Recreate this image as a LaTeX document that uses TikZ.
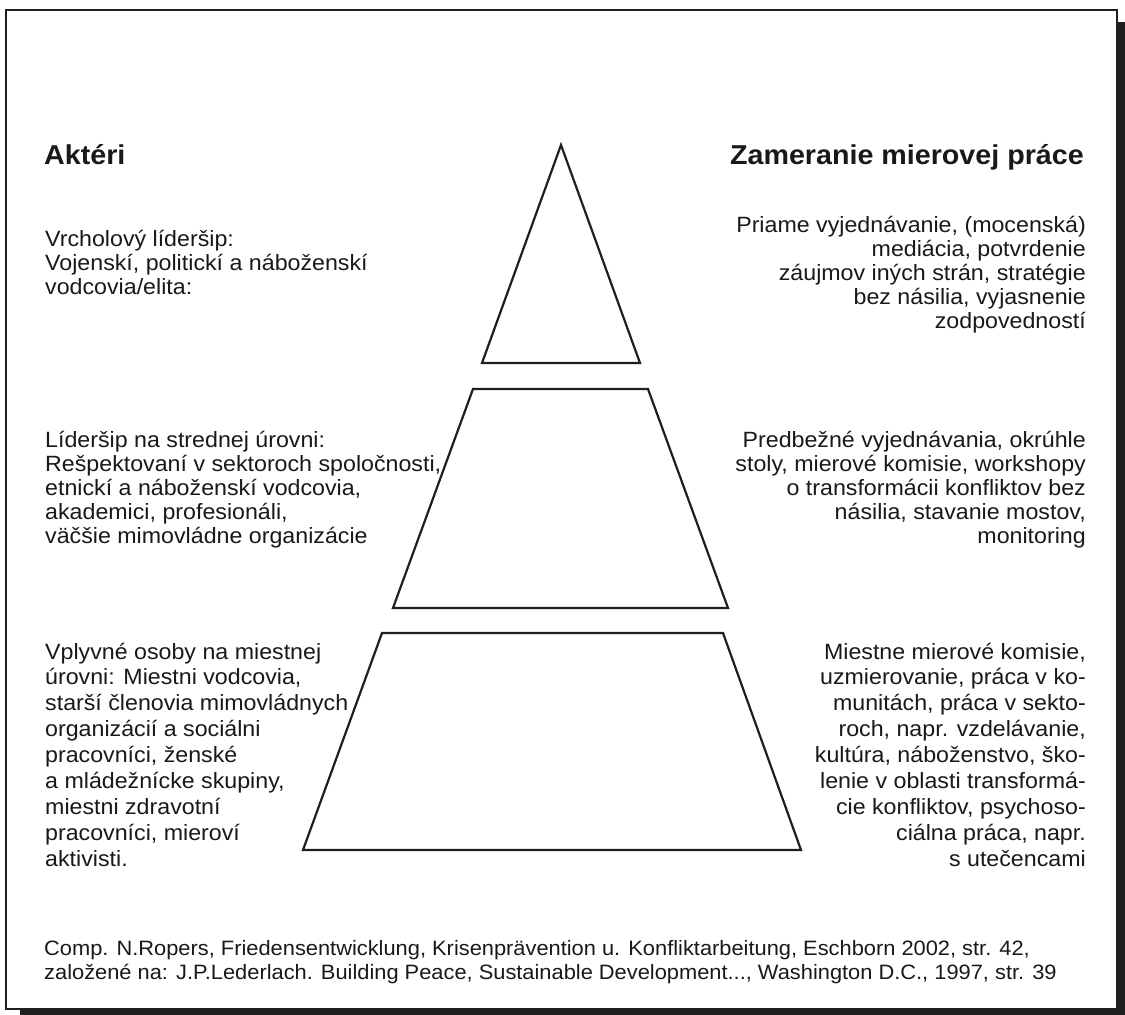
\documentclass[tikz,border=0pt]{standalone}
\usepackage{fontspec}
\setmainfont{Liberation Sans}[FakeStretch=1.05]
% stacked lines, spaced by \baselineskip; first line gives the baseline
\newcommand{\blkL}[1]{\vtop{\lineskiplimit=-20pt\halign{##\hfil\cr#1\crcr}}}
\newcommand{\blkR}[1]{\vtop{\lineskiplimit=-20pt\halign{\hfil##\cr#1\crcr}}}
\begin{document}
\begin{tikzpicture}[x=1pt,y=-1pt,
  level/.style={draw=black!88,line width=2.2pt,line join=miter},
  body/.style={inner sep=0pt,font=\fontsize{22.1}{24.2}\selectfont,text=black!90},
  bodywide/.style={inner sep=0pt,font=\fontsize{22.1}{25.9}\selectfont,text=black!90},
  head/.style={inner sep=0pt,font=\fontsize{27.3}{30}\selectfont\bfseries,text=black!90},
  note/.style={inner sep=0pt,font=\fontsize{20.8}{24}\selectfont,text=black!90}]
\useasboundingbox (0,0) rectangle (1125,1015);
% frame with drop shadow
\fill[black!88] (20,22) rectangle (1125,1015);
\draw[fill=white,draw=black!88,line width=2pt] (6,10) rectangle (1117,1009);
% pyramid levels
\draw[level] (561,145) -- (640,363) -- (482,363) -- cycle;
\draw[level] (473,389) -- (648,389) -- (728,608) -- (393,608) -- cycle;
\draw[level] (382,633) -- (723,633) -- (801,850) -- (303,850) -- cycle;
% headings
\node[head,anchor=base west] (hl) at (44,164) {Aktéri};
\node[head,anchor=base east] (hr) at (1084,164) {Zameranie mierovej práce};
% actors
\node[body,anchor=base west] (a1) at (45,246) {\blkL{Vrcholový líderšip:\cr Vojenskí, politickí a náboženskí\cr vodcovia/elita:}};
\node[body,anchor=base west] (a2) at (45,447) {\blkL{Líderšip na strednej úrovni:\cr Rešpektovaní v sektoroch spoločnosti,\cr etnickí a náboženskí vodcovia,\cr akademici, profesionáli,\cr väčšie mimovládne organizácie}};
\node[bodywide,anchor=base west] (a3) at (45,659) {\blkL{Vplyvné osoby na miestnej\cr úrovni: Miestni vodcovia,\cr starší členovia mimovládnych\cr organizácií a sociálni\cr pracovníci, ženské\cr a mládežnícke skupiny,\cr miestni zdravotní\cr pracovníci, mieroví\cr aktivisti.}};
% focus of peace work
\node[body,anchor=base east] (f1) at (1086,232) {\blkR{Priame vyjednávanie, (mocenská)\cr mediácia, potvrdenie\cr záujmov iných strán, stratégie\cr bez násilia, vyjasnenie\cr zodpovedností}};
\node[body,anchor=base east] (f2) at (1086,447) {\blkR{Predbežné vyjednávania, okrúhle\cr stoly, mierové komisie, workshopy\cr o transformácii konfliktov bez\cr násilia, stavanie mostov,\cr monitoring}};
\node[bodywide,anchor=base east] (f3) at (1086,659) {\blkR{Miestne mierové komisie,\cr uzmierovanie, práca v ko-\cr munitách, práca v sekto-\cr roch, napr. vzdelávanie,\cr kultúra, náboženstvo, ško-\cr lenie v oblasti transformá-\cr cie konfliktov, psychoso-\cr ciálna práca, napr.\cr s utečencami}};
% source
\node[note,anchor=base west] (src) at (44,955) {\blkL{Comp. N.Ropers, Friedensentwicklung, Krisenprävention u. Konfliktarbeitung, Eschborn 2002, str. 42,\cr založené na: J.P.Lederlach. Building Peace, Sustainable Development..., Washington D.C., 1997, str. 39}};
\end{tikzpicture}
\end{document}
